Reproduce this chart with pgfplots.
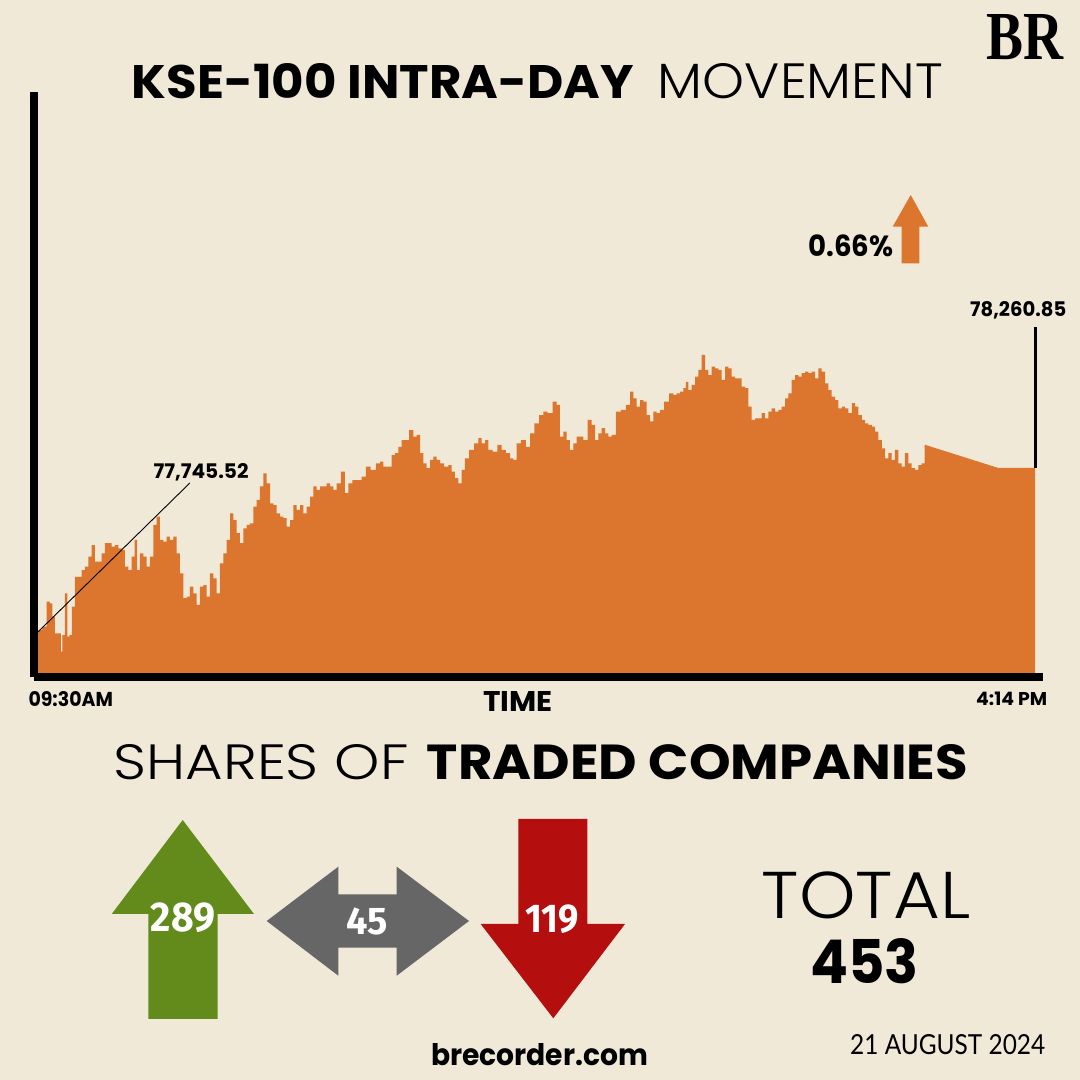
\documentclass[border=0pt]{standalone}
\usepackage{pgfplots}
\pgfplotsset{compat=1.18}
\usepackage{graphicx}
\usepackage{fontspec}
\setmainfont{Poppins}
\newfontfamily\plight{Poppins Light}
\newfontfamily\lato{Lato}
\newfontfamily\fira{Fira Sans}
\newfontfamily\lserif{Liberation Serif}
\definecolor{bgc}{RGB}{240,233,216}
\definecolor{orng}{RGB}{220,117,45}
\definecolor{grn}{RGB}{98,139,28}
\definecolor{gry}{RGB}{102,102,102}
\definecolor{rd}{RGB}{180,14,14}
\newcommand{\T}[7][black]{\node[anchor=base west,inner sep=0pt,text=#1] at (#2,#3) {\resizebox{#4pt}{#5pt}{#6#7}};}
\pgfplotstableread{
m v
0 77608
0 77745.52
1.21 77755
3.24 77765
4.59 77843
5.94 77838
6.61 77797
7.96 77744
9.31 77744
9.99 77687
10.66 77739
12.01 77869
12.68 77734
13.63 77739
14.71 77828
16.06 77921
17.41 77921
18.76 77942
20.1 77953
21.45 77984
22.8 78020
24.15 77968
25.5 77968
26.85 77994
28.2 78026
29.55 78026
30.9 78015
32.25 78020
33.6 78010
34.95 78005
36.3 77953
37.65 77942
39.0 77984
40.08 78036
41.02 77942
42.37 77994
43.71 77984
45.06 77953
46.41 77984
47.76 78083
49.11 78109
50.46 78036
51.81 78031
53.16 78046
54.51 78036
55.86 78046
57.21 77994
58.56 77932
59.91 77854
61.26 77859
62.61 77890
63.96 77869
65.31 77833
66.66 77890
68.01 77895
69.36 77859
70.71 77932
72.06 77916
73.41 77869
74.76 77963
76.11 77994
77.46 78036
78.81 78119
80.16 78098
81.5 78057
82.85 78026
84.2 78072
85.55 78083
86.9 78088
88.25 78140
89.6 78161
90.95 78203
92.3 78244
93.65 78213
95.0 78150
96.35 78145
97.7 78119
99.05 78109
100.4 78104
101.75 78078
103.1 78098
104.45 78145
105.8 78130
107.15 78145
108.5 78119
109.85 78140
111.2 78171
112.55 78203
113.9 78192
115.25 78203
116.6 78203
117.95 78213
119.3 78203
120.65 78192
122.0 78213
124.0 78249
125.36 78182
126.7 78213
128.7 78223
130.74 78223
132.1 78234
134.1 78265
136.1 78255
138.2 78275
139.5 78281
140.9 78265
142.9 78265
144.2 78301
145.6 78307
146.9 78327
148.3 78348
149.6 78348
151.7 78379
153.0 78359
154.4 78364
155.7 78307
157.1 78275
158.4 78260
159.8 78286
161.1 78296
162.5 78286
163.8 78275
165.8 78265
167.2 78270
168.5 78249
169.9 78229
171.2 78213
172.6 78255
173.9 78291
175.9 78317
178.0 78338
179.3 78354
180.7 78338
182.0 78348
183.4 78317
185.4 78312
187.4 78333
188.8 78317
190.8 78307
192.2 78291
193.5 78286
194.9 78338
196.9 78348
198.9 78327
200.3 78369
202.3 78400
204.3 78426
205.7 78437
207.7 78432
209.7 78468
211.0 78458
212.4 78359
213.7 78374
215.1 78348
216.4 78317
217.8 78338
219.1 78359
220.5 78359
221.8 78348
223.9 78411
225.2 78395
226.6 78348
227.9 78369
229.3 78385
230.6 78369
231.9 78359
233.3 78364
235.3 78437
237.3 78442
239.4 78458
240.7 78499
242.1 78478
243.4 78452
244.8 78473
246.1 78468
247.5 78426
248.8 78406
250.2 78437
251.5 78432
252.9 78442
254.9 78468
256.9 78494
258.3 78489
259.6 78494
261.0 78499
262.3 78510
263.0 78530
264.3 78504
265.7 78520
267.0 78546
268.4 78567
269.7 78614
271.1 78567
272.4 78551
273.8 78577
275.1 78572
276.5 78567
277.8 78536
279.2 78577
280.5 78572
281.9 78546
283.2 78541
284.6 78541
285.9 78515
287.3 78510
288.6 78452
290.0 78411
291.3 78416
292.7 78416
294.0 78432
295.4 78416
296.7 78437
298.1 78447
299.4 78437
300.8 78442
302.1 78452
303.5 78478
304.8 78494
306.2 78536
307.5 78551
308.9 78546
310.2 78557
311.6 78562
312.9 78557
314.3 78562
315.6 78541
317.0 78572
318.3 78562
319.7 78525
321.0 78504
322.4 78484
323.7 78473
325.1 78447
326.4 78452
327.8 78447
329.1 78432
330.5 78463
331.8 78452
333.2 78426
334.5 78411
335.9 78400
337.2 78395
338.6 78390
339.9 78374
341.3 78348
342.6 78322
344.0 78291
345.3 78307
346.6 78286
348.0 78317
349.3 78275
350.7 78265
352.0 78307
353.4 78275
354.7 78260
356.1 78255
357.4 78270
358.8 78275
359.7 78333
359.7 77608
}\kse
\pgfplotstableread{
m v
359.5 77608
359.5 78333
389.1 78260.85
404.0 78260.85
404.0 77608
}\ksetail
\begin{document}
\begin{tikzpicture}
\begin{scope}[x=1pt,y=1pt]
\fill[bgc] (0,0) rectangle (1080,1080);
\end{scope}
\begin{axis}[at={(34pt,403pt)},anchor=south west,scale only axis,
  width=1009pt,height=585pt,
  xmin=-1.2,xmax=407.2,ymin=77608,ymax=79435,
  axis x line*=bottom,axis y line*=left,
  axis line style={line width=7.5pt,-},
  xtick=\empty,ytick=\empty,clip=false,axis on top]
\addplot[draw=none,fill=orng,const plot mark mid] table[x=m,y=v] {\kse};
\addplot[draw=none,fill=orng] table[x=m,y=v] {\ksetail};
\draw[line width=3pt] (axis cs:404,78260.85) -- (axis cs:404,78701);
\draw[line width=0.9pt] (axis cs:0,77745.52) -- (axis cs:61.9,78214);
\end{axis}
\begin{scope}[x=1pt,y=1pt]
% texts
\T{131.7}{981.7}{502}{35}{\bfseries}{KSE-100 INTRA-DAY}
\T{657.7}{981.7}{285}{35}{\plight}{MOVEMENT}
\T{986}{1020}{77}{45}{\lserif\bfseries}{BR}
\T{808.3}{823.3}{85}{21.7}{\bfseries}{0.66\%}
\T{970}{763.3}{96}{15}{\bfseries}{78,260.85}
\T{153.3}{601.7}{95}{15}{\bfseries}{77,745.52}
\T{28.3}{373.3}{84.4}{15}{\bfseries}{09:30AM}
\T{483.3}{368.3}{69.4}{20}{\bfseries}{TIME}
\T{976}{374}{71}{13.5}{\bfseries}{4:14 PM}
\T{113.3}{300}{295}{35}{\plight}{SHARES OF}
\T{426.7}{300}{541}{35}{\bfseries}{TRADED COMPANIES}
% arrows
\fill[orng] (901.7,816.7) -- (901.7,853.3) -- (892.7,853.3) -- (910.7,885) -- (928.3,853.3) -- (919.3,853.3) -- (919.3,816.7) -- cycle;
\fill[grn] (148.3,61) -- (148.3,166) -- (111.7,166) -- (182.7,260) -- (254,166) -- (217.7,166) -- (217.7,61) -- cycle;
\fill[gry] (266.7,159) -- (338.3,213.3) -- (338.3,185.7) -- (396.7,185.7) -- (396.7,213.3) -- (469,159) -- (396.7,104.3) -- (396.7,132.3) -- (338.3,132.3) -- (338.3,104.3) -- cycle;
\fill[rd] (518.3,261) -- (587.3,261) -- (587.3,156) -- (625,156) -- (553.3,61.7) -- (480.7,156) -- (518.3,156) -- cycle;
\T[white]{150.7}{148.3}{64.3}{28.7}{\fira\bfseries}{289}
\T[white]{346}{145}{41.3}{26.7}{\fira\bfseries}{45}
\T[white]{525}{147.3}{53.3}{27.7}{\fira\bfseries}{119}
\T{761.7}{161.7}{208.3}{46.7}{\plight}{TOTAL}
\T{810}{96.7}{108.3}{45}{\bfseries}{453}
\T{850}{25}{195}{20}{\lato}{21 AUGUST 2024}
\T{431}{14}{217}{22}{\bfseries}{brecorder.com}
\pgfresetboundingbox
\useasboundingbox (0,0) rectangle (1080,1080);
\end{scope}
\end{tikzpicture}
\end{document}
